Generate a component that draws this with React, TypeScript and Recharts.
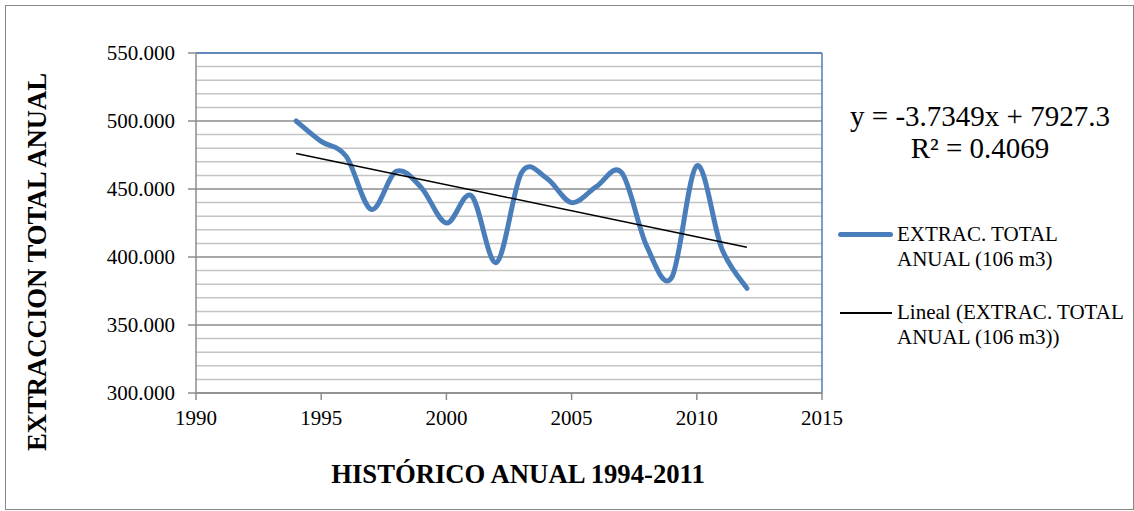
import React from 'react';
import { LineChart, Line, XAxis, YAxis, CartesianGrid, ReferenceLine, Legend, Label } from 'recharts';

const years = [1994, 1995, 1996, 1997, 1998, 1999, 2000, 2001, 2002, 2003, 2004, 2005, 2006, 2007, 2008, 2009, 2010, 2011, 2012];
const extraction = [500, 485, 474, 435, 463, 451, 425, 445, 396, 462, 458, 440, 452, 462, 408, 385, 467, 406, 377];
const xTicks = [1990, 1995, 2000, 2005, 2010, 2015];
const yTicks = [300, 350, 400, 450, 500, 550];
const yMinorGrid = [310, 320, 330, 340, 360, 370, 380, 390, 410, 420, 430, 440, 460, 470, 480, 490, 510, 520, 530, 540];
const seriesLines = ['EXTRAC. TOTAL', 'ANUAL (106 m3)'];
const trendLines = ['Lineal (EXTRAC. TOTAL', 'ANUAL (106 m3))'];
const equationText = 'y = -3.7349x + 7927.3';
const r2Text = 'R² = 0.4069';
const xTitle = 'HISTÓRICO ANUAL 1994-2011';
const yTitle = 'EXTRACCION TOTAL ANUAL';

const BLUE = '#4A7EBB';
const FONT = '"Liberation Serif", "Times New Roman", serif';

const data = years.map((year, i) => ({ year, value: extraction[i] }));

// least-squares trend line (Excel "Lineal")
const n = years.length;
const mx = years.reduce((a, b) => a + b, 0) / n;
const my = extraction.reduce((a, b) => a + b, 0) / n;
let sxy = 0;
let sxx = 0;
years.forEach((x, i) => {
  sxy += (x - mx) * (extraction[i] - my);
  sxx += (x - mx) * (x - mx);
});
const slope = sxy / sxx;
const intercept = my - slope * mx;
const trendData = [years[0], years[n - 1]].map((year) => ({ year, trend: intercept + slope * year }));

// Catmull-Rom style smoothing similar to Excel's smoothed line
const excelSmooth = (context: any) => {
  let pts: number[][] = [];
  return {
    areaStart() {},
    areaEnd() {},
    lineStart() {
      pts = [];
    },
    point(x: number, y: number) {
      pts.push([+x, +y]);
    },
    lineEnd() {
      const m = pts.length;
      if (!m) return;
      context.moveTo(pts[0][0], pts[0][1]);
      for (let i = 0; i < m - 1; i++) {
        const p0 = pts[Math.max(i - 1, 0)];
        const p1 = pts[i];
        const p2 = pts[i + 1];
        const p3 = pts[Math.min(i + 2, m - 1)];
        context.bezierCurveTo(
          p1[0] + (p2[0] - p0[0]) / 6,
          p1[1] + (p2[1] - p0[1]) / 6,
          p2[0] - (p3[0] - p1[0]) / 6,
          p2[1] - (p3[1] - p1[1]) / 6,
          p2[0],
          p2[1]
        );
      }
    },
  };
};

const LegendBlock = () => (
  <div style={{ position: 'absolute', left: 0, top: 0, width: 1134, height: 511, fontFamily: FONT, color: '#000' }}>
    <div style={{ position: 'absolute', left: 838, top: 222, display: 'flex', alignItems: 'flex-start' }}>
      <div style={{ width: 55, height: 5, background: BLUE, borderRadius: 3, marginTop: 10, marginRight: 4 }} />
      <div style={{ fontSize: 21, lineHeight: '25px' }}>
        {seriesLines.map((t) => (
          <div key={t}>{t}</div>
        ))}
      </div>
    </div>
    <div style={{ position: 'absolute', left: 840, top: 300, display: 'flex', alignItems: 'flex-start' }}>
      <div style={{ width: 52, height: 1.5, background: '#000', marginTop: 12, marginRight: 5 }} />
      <div style={{ fontSize: 21, lineHeight: '25px' }}>
        {trendLines.map((t) => (
          <div key={t}>{t}</div>
        ))}
      </div>
    </div>
    <div style={{ position: 'absolute', left: 830, width: 300, top: 100, textAlign: 'center', fontSize: 29, lineHeight: '32px' }}>
      <div>{equationText}</div>
      <div>{r2Text}</div>
    </div>
  </div>
);

export default function App() {
  return (
    <div style={{ position: 'absolute', left: 0, top: 0, width: 1134, height: 511, background: '#fff' }}>
      <div
        style={{
          position: 'absolute',
          left: 5,
          top: 5,
          width: 1129,
          height: 505,
          border: '1.5px solid #888',
          boxSizing: 'border-box',
        }}
      />
      <LineChart
        width={1134}
        height={511}
        data={data}
        margin={{ top: 53, right: 312, bottom: 88, left: 96 }}
        style={{ position: 'absolute', left: 0, top: 0 }}
      >
        <CartesianGrid horizontal vertical={false} stroke="#8C8C8C" strokeWidth={1.5} />
        {yMinorGrid.map((v) => (
          <ReferenceLine key={v} y={v} stroke="#C4C4C4" strokeWidth={1.5} />
        ))}
        <ReferenceLine y={550} stroke={BLUE} strokeWidth={1.5} />
        <ReferenceLine x={2015} stroke={BLUE} strokeWidth={1.5} />
        <XAxis
          dataKey="year"
          type="number"
          domain={[1990, 2015]}
          ticks={xTicks}
          height={30}
          axisLine={{ stroke: '#8C8C8C', strokeWidth: 1.5 }}
          tickLine={{ stroke: '#8C8C8C', strokeWidth: 1.5 }}
          tickSize={7}
          tickMargin={10}
          tick={{ fill: '#000', fontSize: 21, fontFamily: FONT }}
          allowDataOverflow
        >
          <Label
            content={() => (
              <text x={518} y={483} textAnchor="middle" fontFamily={FONT} fontSize={26.7} fontWeight="bold" fill="#000">
                {xTitle}
              </text>
            )}
          />
        </XAxis>
        <YAxis
          type="number"
          domain={[300, 550]}
          ticks={yTicks}
          width={100}
          axisLine={{ stroke: '#8C8C8C', strokeWidth: 1.5 }}
          tickLine={{ stroke: '#8C8C8C', strokeWidth: 1.5 }}
          tickSize={8}
          tickMargin={13}
          tickFormatter={(v: number) => v.toFixed(3)}
          tick={{ fill: '#000', fontSize: 21, fontFamily: FONT }}
          allowDataOverflow
        >
          <Label
            content={() => (
              <text
                x={37}
                y={262}
                transform="rotate(-90, 37, 262)"
                textAnchor="middle"
                dominantBaseline="central"
                fontFamily={FONT}
                fontSize={26.7}
                fontWeight="bold"
                fill="#000"
              >
                {yTitle}
              </text>
            )}
          />
        </YAxis>
        <Line
          dataKey="value"
          name={seriesLines.join(' ')}
          type={excelSmooth as any}
          stroke={BLUE}
          strokeWidth={5}
          strokeLinecap="round"
          dot={false}
          activeDot={false}
          isAnimationActive={false}
        />
        <Line
          data={trendData}
          dataKey="trend"
          name={trendLines.join(' ')}
          type="linear"
          stroke="#000"
          strokeWidth={1.5}
          dot={false}
          activeDot={false}
          isAnimationActive={false}
        />
        <Legend
          layout="vertical"
          align="center"
          verticalAlign="middle"
          content={() => <LegendBlock />}
          wrapperStyle={{ left: 0, top: 0, width: 1134, height: 511, pointerEvents: 'none' }}
        />
      </LineChart>
    </div>
  );
}
